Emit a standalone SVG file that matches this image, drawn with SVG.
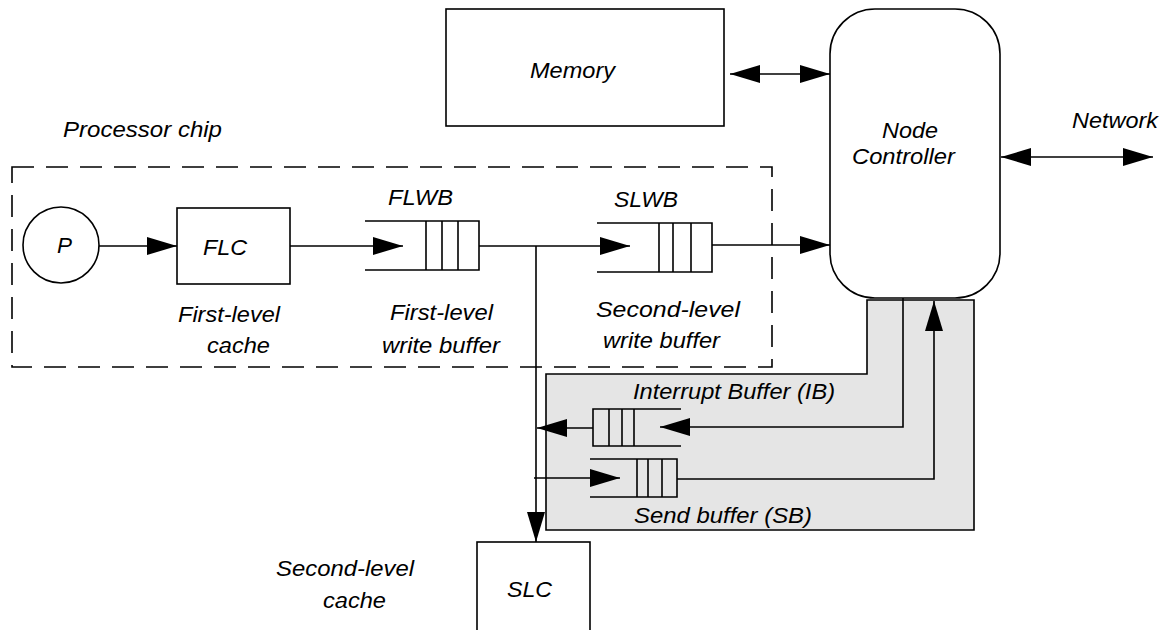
<svg xmlns="http://www.w3.org/2000/svg" width="1163" height="630" viewBox="0 0 1163 630">
<style>
.box{fill:#fff;stroke:#000;stroke-width:1.6}
.ln{fill:none;stroke:#000;stroke-width:1.6}
.t{font-family:"Liberation Sans",Arial,sans-serif;font-style:italic;font-size:22px;fill:#000}
</style>
<defs>
<marker id="ah" markerUnits="userSpaceOnUse" markerWidth="30" markerHeight="18" refX="30" refY="9" orient="auto-start-reverse" viewBox="0 0 30 18">
<path d="M0,0 L30,9 L0,18 z" fill="#000"/>
</marker>
</defs>
<rect width="1163" height="630" fill="#fff"/>

<g id="processor-chip">
<rect x="12" y="167" width="760" height="200" fill="none" stroke="#000" stroke-width="1.6" stroke-dasharray="22 12"/>
<text class="t" x="63" y="137" textLength="159" lengthAdjust="spacingAndGlyphs">Processor chip</text>
</g>

<g id="interface-region">
<polygon points="867,300 974,300 974,530 546,530 546,374 867,374" fill="#e5e5e5" stroke="#000" stroke-width="1.6"/>
<text class="t" x="633" y="399" textLength="202" lengthAdjust="spacingAndGlyphs">Interrupt Buffer (IB)</text>
<text class="t" x="634" y="523" textLength="178" lengthAdjust="spacingAndGlyphs">Send buffer (SB)</text>
</g>

<g id="memory">
<rect class="box" x="446" y="9" width="278" height="117"/>
<text class="t" x="530" y="78" textLength="85" lengthAdjust="spacingAndGlyphs">Memory</text>
</g>

<g id="node-controller">
<rect class="box" x="830" y="9" width="170" height="289" rx="45" ry="45"/>
<text class="t" x="882" y="138" textLength="56" lengthAdjust="spacingAndGlyphs">Node</text>
<text class="t" x="852" y="164" textLength="103" lengthAdjust="spacingAndGlyphs">Controller</text>
</g>

<g id="network">
<text class="t" x="1072" y="128" textLength="86" lengthAdjust="spacingAndGlyphs">Network</text>
</g>

<g id="processor">
<circle class="box" cx="61" cy="245" r="38"/>
<text class="t" x="57" y="253" textLength="15" lengthAdjust="spacingAndGlyphs">P</text>
</g>

<g id="flc">
<rect class="box" x="177" y="208" width="113" height="76"/>
<text class="t" x="203" y="255" textLength="44" lengthAdjust="spacingAndGlyphs">FLC</text>
<text class="t" x="178" y="322" textLength="102" lengthAdjust="spacingAndGlyphs">First-level</text>
<text class="t" x="207" y="353" textLength="63" lengthAdjust="spacingAndGlyphs">cache</text>
</g>

<g id="flwb">
<path class="ln" d="M365,221 H479 V270 H365 M426,221 V270 M442,221 V270 M458,221 V270"/>
<text class="t" x="388" y="205" textLength="65" lengthAdjust="spacingAndGlyphs">FLWB</text>
<text class="t" x="390" y="320" textLength="103" lengthAdjust="spacingAndGlyphs">First-level</text>
<text class="t" x="382" y="353" textLength="118" lengthAdjust="spacingAndGlyphs">write buffer</text>
</g>

<g id="slwb">
<path class="ln" d="M597,223 H712 V272 H597 M659,223 V272 M673,223 V272 M691,223 V272"/>
<text class="t" x="614" y="207" textLength="64" lengthAdjust="spacingAndGlyphs">SLWB</text>
<text class="t" x="596" y="317" textLength="144" lengthAdjust="spacingAndGlyphs">Second-level</text>
<text class="t" x="603" y="348" textLength="117" lengthAdjust="spacingAndGlyphs">write buffer</text>
</g>

<g id="ib">
<path class="ln" d="M681,409 H593 V446 H681 M609,409 V446 M622,409 V446 M634,409 V446"/>
</g>

<g id="sb">
<path class="ln" d="M590,459 H677 V497 H590 M637,459 V497 M648,459 V497 M662,459 V497"/>
</g>

<g id="slc">
<rect class="box" x="477" y="542" width="113" height="110"/>
<text class="t" x="507" y="597" textLength="45" lengthAdjust="spacingAndGlyphs">SLC</text>
<text class="t" x="276" y="576" textLength="138" lengthAdjust="spacingAndGlyphs">Second-level</text>
<text class="t" x="323" y="608" textLength="63" lengthAdjust="spacingAndGlyphs">cache</text>
</g>

<g id="connectors">
<line class="ln" x1="99" y1="246" x2="177" y2="246" marker-end="url(#ah)"/>
<line class="ln" x1="290" y1="246" x2="403" y2="246" marker-end="url(#ah)"/>
<line class="ln" x1="479" y1="246" x2="630" y2="246" marker-end="url(#ah)"/>
<line class="ln" x1="536" y1="246" x2="536" y2="542" marker-end="url(#ah)"/>
<line class="ln" x1="712" y1="245" x2="830" y2="245" marker-end="url(#ah)"/>
<line class="ln" x1="730" y1="74" x2="830" y2="74" marker-start="url(#ah)" marker-end="url(#ah)"/>
<line class="ln" x1="1001" y1="157" x2="1153" y2="157" marker-start="url(#ah)" marker-end="url(#ah)"/>
<polyline class="ln" points="903,298 903,427 660,427" marker-end="url(#ah)"/>
<line class="ln" x1="593" y1="428" x2="537" y2="428" marker-end="url(#ah)"/>
<line class="ln" x1="534" y1="478" x2="620" y2="478" marker-end="url(#ah)"/>
<polyline class="ln" points="677,479 934,479 934,301" marker-end="url(#ah)"/>
</g>
</svg>
